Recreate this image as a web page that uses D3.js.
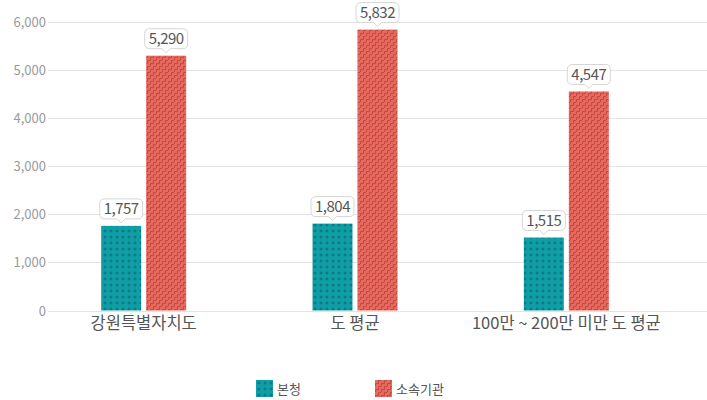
<!DOCTYPE html>
<html><head><meta charset="utf-8">
<script src="https://cdn.jsdelivr.net/npm/d3@7"></script>
<style>
body{margin:0;background:#fff;}
text{font-family:"Noto Sans CJK KR","Noto Sans",sans-serif;}
</style></head>
<body><svg id="c" width="707" height="400"></svg>
<script>
const categories = ["강원특별자치도", "도 평균", "100만 ~ 200만 미만 도 평균"];
const seriesNames = ["본청", "소속기관"];
const values본청 = [1757, 1804, 1515];
const values소속기관 = [5290, 5832, 4547];
const yTicks = [0, 1000, 2000, 3000, 4000, 5000, 6000];

const svg = d3.select("#c");
const defs = svg.append("defs");
// teal plus pattern
const p1 = defs.append("pattern").attr("id","pTeal").attr("patternUnits","userSpaceOnUse").attr("width",6).attr("height",6);
p1.append("rect").attr("width",6).attr("height",6).attr("fill","#0f9ea6");
p1.append("path").attr("d","M2.5 1.5h1v1h1v1h-1v1h-1v-1h-1v-1h1z").attr("fill","#0b6f75");
// red staircase pattern
const p2 = defs.append("pattern").attr("id","pRed").attr("patternUnits","userSpaceOnUse").attr("width",6).attr("height",6);
p2.append("rect").attr("width",6).attr("height",6).attr("fill","#e9685d");
p2.append("path").attr("d","M0.5 6V3.5H3.5V0.5H6.5").attr("fill","none").attr("stroke","#bc4c43").attr("stroke-width",1);
const fills = ["url(#pTeal)","url(#pRed)"];

const x = d3.scaleBand().domain(categories).range([38, 672]).paddingInner(0).paddingOuter(0);
const y = d3.scaleLinear().domain([0, 6000]).range([310.5, 21.5]);

// grid
const g = svg.append("g");
g.selectAll("line.grid").data(yTicks).join("line")
  .attr("x1",48).attr("x2",707).attr("y1",d=>Math.round(y(d))+0.5).attr("y2",d=>Math.round(y(d))+0.5)
  .attr("stroke","#e3e3e3").attr("stroke-width",1);
const yAxis = d3.axisLeft(y).tickValues(yTicks).tickFormat(d3.format(",")).tickSize(0).tickPadding(0);
const ya = svg.append("g").attr("transform","translate(46,0)").call(yAxis);
ya.select(".domain").remove();
ya.selectAll("text").attr("fill","#9a9a9a").style("font-size","13px").attr("dy","0.35em");

const xAxis = d3.axisBottom(x).tickSize(0).tickPadding(0);
const xa = svg.append("g").attr("transform","translate(0,315)").call(xAxis);
xa.select(".domain").remove();
xa.selectAll("text").attr("fill","#555").style("font-size","16.5px").attr("dy","0.85em");

const bw = 40, gap = 5;
const data = [];
categories.forEach((c,i)=>{
  [values본청[i], values소속기관[i]].forEach((v,s)=>{
    data.push({c, v, s});
  });
});
const cx = c => x(c) + x.bandwidth()/2;
const bx = d => cx(d.c) - bw - gap/2 + d.s*(bw+gap);
svg.append("g").selectAll("rect").data(data).join("rect")
  .attr("x", bx).attr("width", bw)
  .attr("y", d=>y(d.v)).attr("height", d=>y(0)-y(d.v))
  .attr("fill", d=>fills[d.s]);

// callout labels
const fmt = d3.format(",");
const lg = svg.append("g").selectAll("g").data(data).join("g")
  .attr("transform", d=>`translate(${bx(d)+bw/2},${y(d.v)-3})`);
lg.each(function(d){
  const gg = d3.select(this);
  const t = gg.append("text").text(fmt(d.v)).attr("text-anchor","middle")
    .attr("fill","#555").style("font-size","15px").style("letter-spacing","-0.5px");
  const w = t.node().getComputedTextLength()+8, h = 20, r = 5;
  const top = -h-4, bot = -4;
  const l = -w/2, rr = w/2;
  const path = `M${l+r},${top}H${rr-r}Q${rr},${top} ${rr},${top+r}V${bot-r}Q${rr},${bot} ${rr-r},${bot}H4L0,${bot+4}L-4,${bot}H${l+r}Q${l},${bot} ${l},${bot-r}V${top+r}Q${l},${top} ${l+r},${top}Z`;
  gg.insert("path","text").attr("d",path).attr("fill","#fff").attr("stroke","#d6d6d6").attr("stroke-width",1);
  t.attr("y", top + h/2).attr("dy","0.35em");
});

// legend
const legX = [256, 375];
const leg = svg.append("g").selectAll("g").data(seriesNames).join("g")
  .attr("transform",(d,i)=>`translate(${legX[i]},380)`);
leg.append("rect").attr("width",17).attr("height",17).attr("fill",(d,i)=>fills[i]);
leg.append("text").attr("x",21).attr("y",9).attr("dy","0.35em").text(d=>d)
  .attr("fill","#555").style("font-size","13px");
</script></body></html>
